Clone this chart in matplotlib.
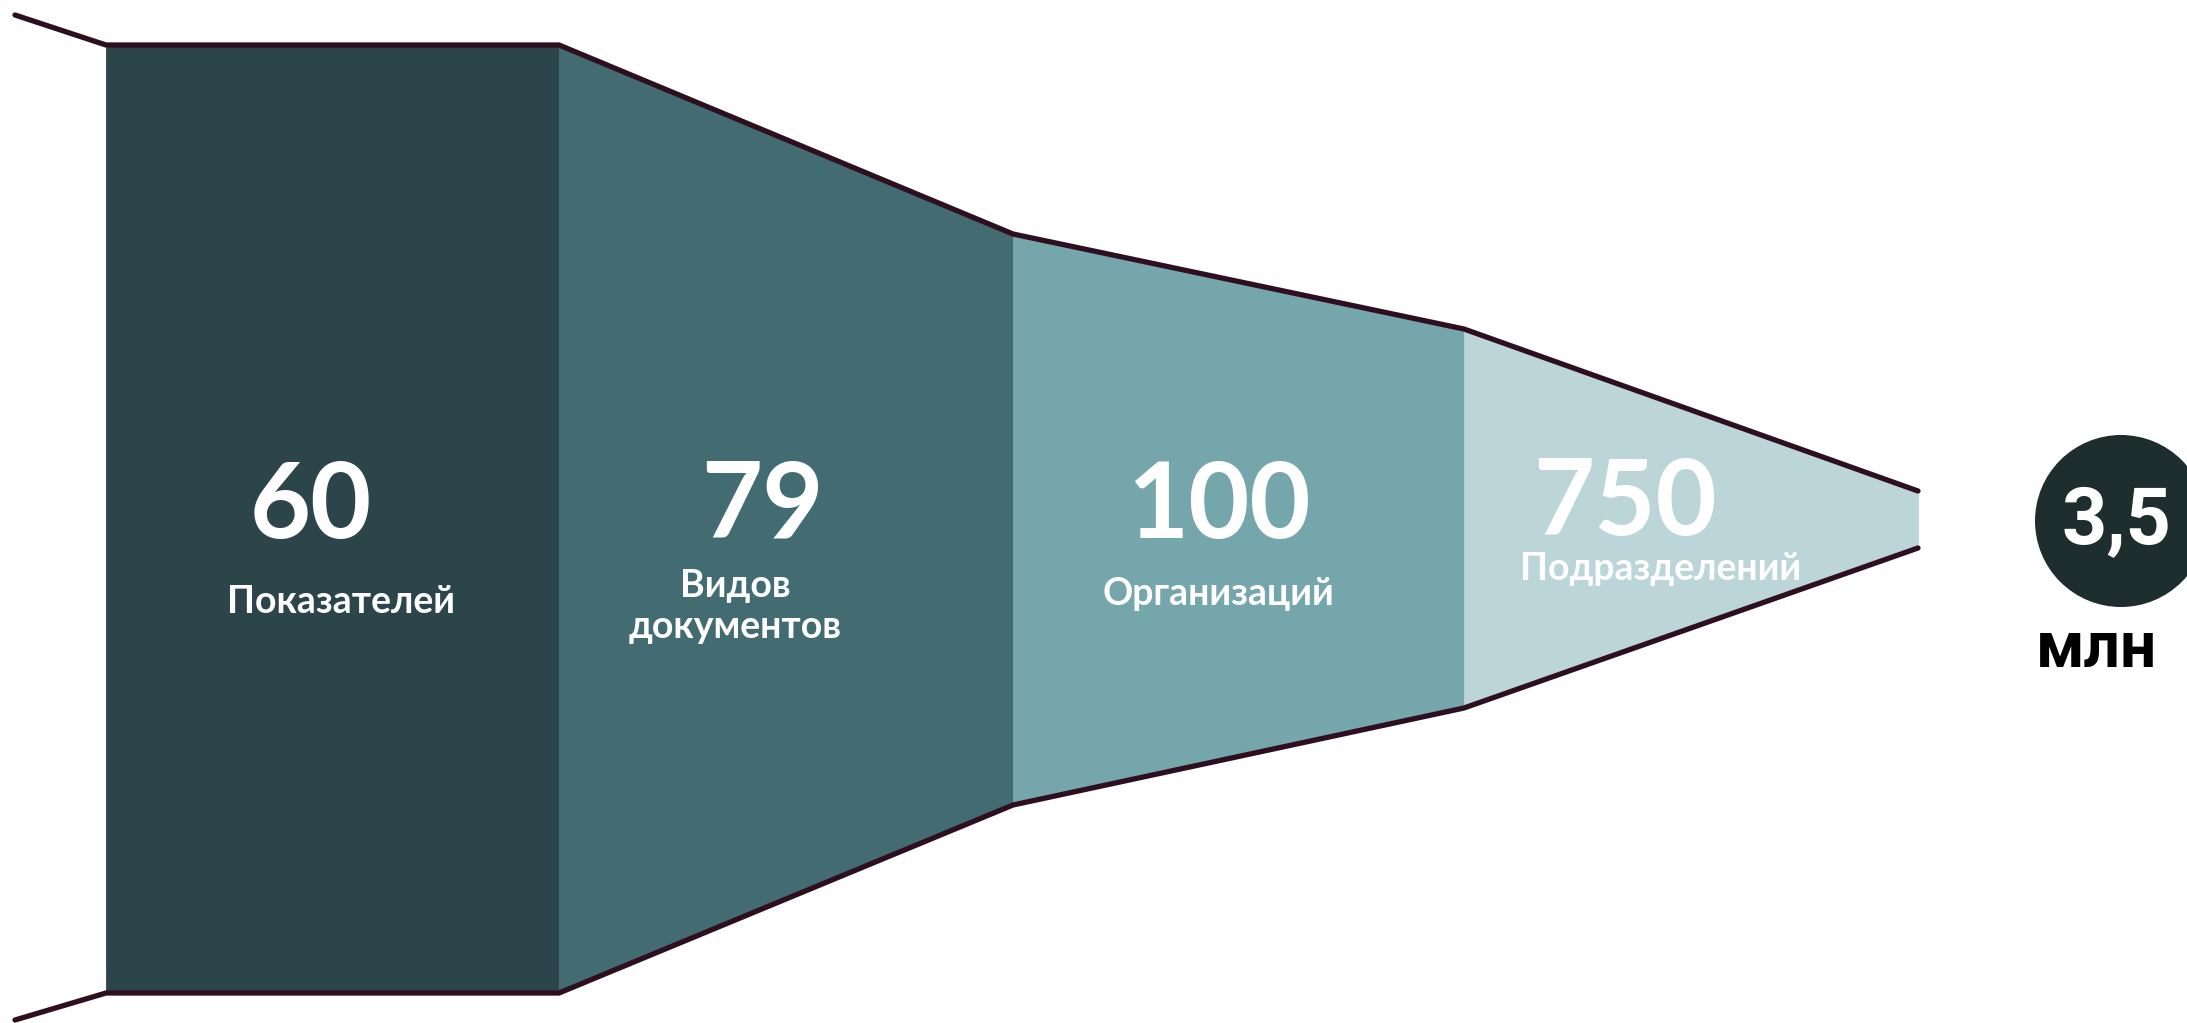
import matplotlib
matplotlib.use("Agg")
import matplotlib.pyplot as plt
from matplotlib.patches import Circle

# ---- data ----
values = ["60", "79", "100", "750"]
labels = ["Показателей", "Видов\nдокументов", "Организаций", "Подразделений"]
total_value = "3,5"
total_unit = "млн"

# ---- layout (pixel units) ----
W, H = 2187, 1023
seg_x = [106, 559, 1013, 1464, 1918]
top_y = [45, 45, 234, 329, 491]
bot_y = [993, 993, 805, 708, 548]
lead_x = 15
lead_top, lead_bot = 15, 1020
colors = ["#2c454a", "#436c72", "#74a6ac", "#bbd5d8"]
edge_color = "#2e0f20"

num_xy = [(311, 538), (762, 538), (1219, 538), (1625, 535)]
lab_xy = [(341, 613), (735, 638), (1218, 605), (1661, 580)]
circle_c, circle_r = (2121, 521), 86

fig = plt.figure(figsize=(W / 100, H / 100), dpi=100)
ax = fig.add_axes([0, 0, 1, 1])
ax.set_xlim(0, W)
ax.set_ylim(H, 0)
ax.axis("off")

for i in range(len(values)):
    ax.fill_between([seg_x[i], seg_x[i + 1]], [top_y[i], top_y[i + 1]],
                    [bot_y[i], bot_y[i + 1]], facecolor=colors[i],
                    edgecolor=colors[i], lw=0.6)

ax.plot([lead_x] + seg_x, [lead_top] + top_y, color=edge_color, lw=3.8,
        solid_capstyle="round", solid_joinstyle="round")
ax.plot([lead_x] + seg_x, [lead_bot] + bot_y, color=edge_color, lw=3.8,
        solid_capstyle="round", solid_joinstyle="round")

numfont = dict(family="Lato", weight="bold", color="white")
for v, (x, y) in zip(values, num_xy):
    ax.text(x, y, v, ha="center", va="baseline", fontsize=76, **numfont)

for lab, (x, y) in zip(labels, lab_xy):
    ax.text(x, y, lab, ha="center", va="baseline", fontsize=27,
            linespacing=1.25, multialignment="center", **numfont)

ax.add_patch(Circle(circle_c, circle_r, color="#1e2d2d", lw=0, clip_on=True))
ax.text(2116, 543, total_value, ha="center", va="baseline", fontsize=57,
        family="Roboto", weight="bold", color="white")
ax.text(2096, 667, total_unit, ha="center", va="baseline", fontsize=46,
        family="Roboto", weight="bold", color="black")

fig.savefig("out.png", dpi=100, facecolor="white")
